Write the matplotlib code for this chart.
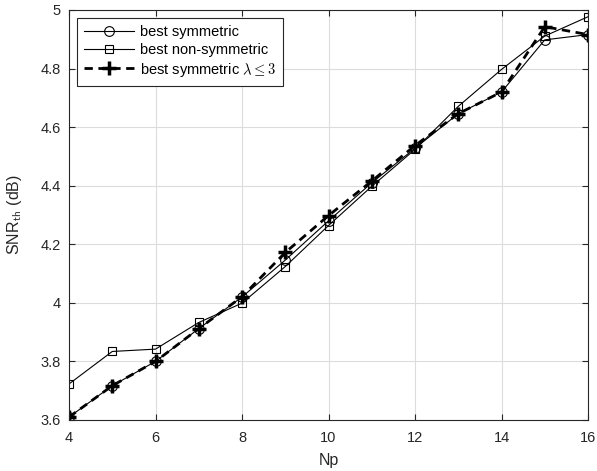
import numpy as np
import matplotlib
matplotlib.use('Agg')
import matplotlib.pyplot as plt

plt.rcParams['font.family'] = ['Liberation Sans', 'DejaVu Sans']
plt.rcParams['mathtext.fontset'] = 'cm'

np_vals = [4, 5, 6, 7, 8, 9, 10, 11, 12, 13, 14, 15, 16]
sym = [3.61, 3.717, 3.80, 3.912, 4.02, 4.146, 4.28, 4.41, 4.528, 4.646, 4.72, 4.898, 4.916]
nonsym = [3.723, 3.834, 3.842, 3.933, 3.999, 4.124, 4.264, 4.398, 4.524, 4.671, 4.797, 4.911, 4.977]
sym_l3 = [3.61, 3.717, 3.80, 3.912, 4.021, 4.172, 4.298, 4.416, 4.537, 4.646, 4.72, 4.943, 4.916]

fig = plt.figure(figsize=(5.97, 4.71), dpi=100)
ax = fig.add_axes([0.1156, 0.1083, 0.8694, 0.8705])

ax.plot(np_vals, sym, color='k', lw=0.8, marker='o', ms=7, mfc='none', mew=0.8, label='best symmetric')
ax.plot(np_vals, nonsym, color='k', lw=0.8, marker='s', ms=6, mfc='none', mew=0.8, label='best non-symmetric')
ax.plot(np_vals, sym_l3, color='k', lw=2, ls='--', dashes=(3, 2), marker='+', ms=10, mew=2.5,
        label=r'best symmetric $\lambda \leq 3$')

ax.set_xlim(4, 16)
ax.set_ylim(3.6, 5)
ax.set_xticks([4, 6, 8, 10, 12, 14, 16])
ax.set_yticks([3.6, 3.8, 4.0, 4.2, 4.4, 4.6, 4.8, 5.0])
ax.set_yticklabels(['3.6', '3.8', '4', '4.2', '4.4', '4.6', '4.8', '5'])
ax.grid(True, color='#dcdcdc', lw=0.8)
ax.set_axisbelow(True)
ax.tick_params(direction='in', top=True, right=True, labelsize=10.5, colors='#262626', length=4)
ax.tick_params(axis='x', pad=8)
ax.tick_params(axis='y', pad=6)
for s in ax.spines.values():
    s.set_color('#262626')
    s.set_linewidth(0.8)

ax.set_xlabel('Np', fontsize=11.5, color='#262626', labelpad=6)
ax.set_ylabel(r'SNR$_{\mathsf{th}}$ (dB)', fontsize=11.5, color='#262626', labelpad=12)

leg = ax.legend(loc='upper left', fontsize=10.5, fancybox=False, framealpha=1,
                edgecolor='#262626', handlelength=3.4, handletextpad=0.4, borderaxespad=0.55,
                borderpad=0.5, labelspacing=0.25)
leg.get_frame().set_linewidth(0.8)

fig.savefig('out.png', dpi=100)
